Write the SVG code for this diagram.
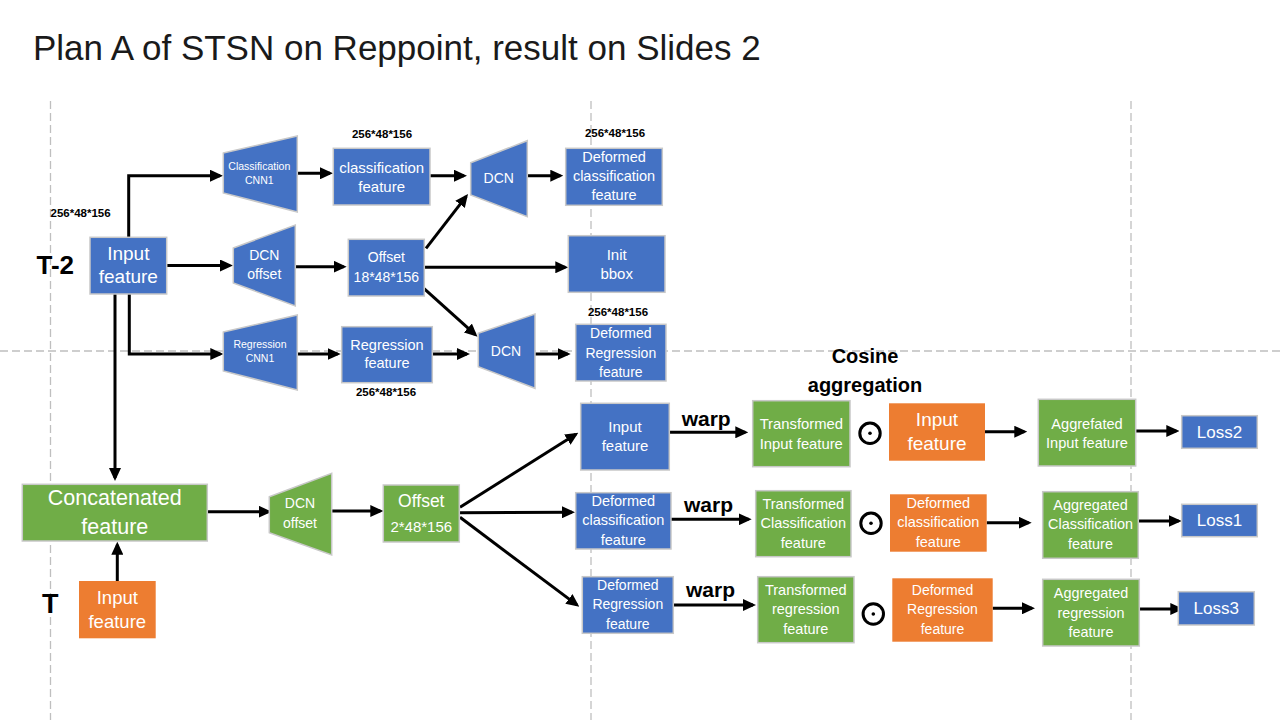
<svg xmlns="http://www.w3.org/2000/svg" width="1280" height="720" viewBox="0 0 1280 720">
<defs>
<marker id="ah" markerUnits="userSpaceOnUse" markerWidth="13" markerHeight="12" refX="10" refY="6" orient="auto">
<path d="M0,0 L13,6 L0,12 z" fill="#000"/>
</marker>
<style>
.guide{stroke:#BFBFBF;stroke-width:1.3;stroke-dasharray:8 4;fill:none}
.blue{fill:#4472C4;stroke:#C8C8C8;stroke-width:1.5}
.green{fill:#70AD47;stroke:#C8C8C8;stroke-width:1.5}
.orange{fill:#ED7D31}
.t{fill:#fff;font-family:"Liberation Sans",Arial,sans-serif;text-anchor:middle}
.k{fill:#000;font-family:"Liberation Sans",Arial,sans-serif;font-weight:bold}
.lbl{fill:#000;font-family:"Liberation Sans",Arial,sans-serif;font-weight:bold;font-size:11.5px;text-anchor:middle}
.c{fill:none;stroke:#000;stroke-width:3;marker-end:url(#ah)}
.odot{fill:none;stroke:#000;stroke-width:3}
</style>
</defs>
<rect width="1280" height="720" fill="#fff"/>
<g id="guides">
<line class="guide" x1="50.5" y1="101" x2="50.5" y2="720"/>
<line class="guide" x1="591" y1="101" x2="591" y2="720"/>
<line class="guide" x1="1131" y1="101" x2="1131" y2="720"/>
<line class="guide" x1="0" y1="351" x2="1280" y2="351"/>
</g>
<text x="33" y="60" font-family="Liberation Sans, Arial, sans-serif" font-size="35" fill="#1a1a1a">Plan A of STSN on Reppoint, result on Slides 2</text>
<g id="labels">
<text class="k" x="36.5" y="274" font-size="26">T-2</text>
<text class="k" x="42" y="612.5" font-size="27">T</text>
<text class="lbl" x="50.5" y="216.5" style="text-anchor:start">256*48*156</text>
<text class="lbl" x="382" y="138">256*48*156</text>
<text class="lbl" x="615" y="137">256*48*156</text>
<text class="lbl" x="618" y="316">256*48*156</text>
<text class="lbl" x="386" y="396">256*48*156</text>
<text class="k" x="865" y="363.3" font-size="20" text-anchor="middle">Cosine</text>
<text class="k" x="865" y="391.7" font-size="20" text-anchor="middle">aggregation</text>
<text class="k" x="681.7" y="426" font-size="21">warp</text>
<text class="k" x="684" y="511.7" font-size="21">warp</text>
<text class="k" x="686" y="596.7" font-size="21">warp</text>
</g>
<g id="connectors">
<path class="c" d="M128.7,237 V175.7 H220"/>
<path class="c" d="M167,265.5 H230"/>
<path class="c" d="M129.3,294 V354 H220.3"/>
<path class="c" d="M115,294 V478"/>
<path class="c" d="M297,173.3 H330"/>
<path class="c" d="M430,175.7 H464"/>
<path class="c" d="M527,175.7 H560.3"/>
<path class="c" d="M295,266.7 H343.7"/>
<path class="c" d="M426,248.3 L466.2,196.4"/>
<path class="c" d="M424,267.3 H565.3"/>
<path class="c" d="M422.7,287.3 L475.3,334.7"/>
<path class="c" d="M297,354 H337.7"/>
<path class="c" d="M432,354 H467"/>
<path class="c" d="M535,354 H567.7"/>
<path class="c" d="M117.3,581 V544.7"/>
<path class="c" d="M207.3,511.7 H268.7"/>
<path class="c" d="M331.7,511 H380.3"/>
<path class="c" d="M460,507.3 L575.8,434.3"/>
<path class="c" d="M460,512.7 L572,512.2"/>
<path class="c" d="M460,517.3 L576.9,604.9"/>
<path class="c" d="M669,432.3 H745.3"/>
<path class="c" d="M671,519.3 H748.7"/>
<path class="c" d="M673.3,605 H753"/>
<path class="c" d="M985,431.7 H1024.3"/>
<path class="c" d="M986.7,522.7 H1028.7"/>
<path class="c" d="M992.7,608.3 H1032"/>
<path class="c" d="M1135.7,431 H1176.3"/>
<path class="c" d="M1138.3,521 H1178.7"/>
<path class="c" d="M1139.3,609 H1180.3"/>
</g>
<g id="n-input-t2"><rect class="blue" x="90" y="237.3" width="76.7" height="56.7"/><text class="t" font-size="19" x="128.3" y="259.5">Input</text><text class="t" font-size="19" x="128.3" y="283">feature</text></g>
<g id="n-cls-cnn1"><polygon class="blue" points="223.3,153 297.3,136 297.3,212 223.3,193"/><text class="t" font-size="10.5" x="259.3" y="169.7">Classification</text><text class="t" font-size="10.5" x="259.3" y="183.7">CNN1</text></g>
<g id="n-dcn-offset-t2"><polygon class="blue" points="233.3,248 295.3,225 295.3,306 233.3,283"/><text class="t" font-size="14" x="264.3" y="260">DCN</text><text class="t" font-size="14" x="264.3" y="279">offset</text></g>
<g id="n-reg-cnn1"><polygon class="blue" points="223.3,332 297.3,315 297.3,390 223.3,371"/><text class="t" font-size="10.5" x="260" y="348">Regression</text><text class="t" font-size="10.5" x="260" y="362">CNN1</text></g>
<g id="n-cls-feature"><rect class="blue" x="333.3" y="148.3" width="96.7" height="56.7"/><text class="t" font-size="15" x="381.7" y="173">classification</text><text class="t" font-size="15" x="381.7" y="191.5">feature</text></g>
<g id="n-dcn-top"><polygon class="blue" points="470.7,162.7 527.3,140.7 527.3,216.7 470.7,195"/><text class="t" font-size="14" x="498.7" y="183.3">DCN</text></g>
<g id="n-def-cls-top"><rect class="blue" x="565.7" y="148.3" width="96.6" height="57"/><text class="t" font-size="14.5" x="614" y="161.8">Deformed</text><text class="t" font-size="14.5" x="614" y="181">classification</text><text class="t" font-size="14.5" x="614" y="200">feature</text></g>
<g id="n-offset18"><rect class="blue" x="348.3" y="239.3" width="76" height="56.7"/><text class="t" font-size="14" x="386.3" y="262.3">Offset</text><text class="t" font-size="14" x="386.3" y="281.7">18*48*156</text></g>
<g id="n-init-bbox"><rect class="blue" x="568.3" y="235.7" width="96.7" height="56.6"/><text class="t" font-size="15" x="616.7" y="259.5">Init</text><text class="t" font-size="15" x="616.7" y="278.5">bbox</text></g>
<g id="n-reg-feature"><rect class="blue" x="341.7" y="326.7" width="90.6" height="56"/><text class="t" font-size="14.5" x="387" y="350">Regression</text><text class="t" font-size="14.5" x="387" y="368.3">feature</text></g>
<g id="n-dcn-bottom"><polygon class="blue" points="478.3,333.3 535,314 535,388.3 478.3,366.7"/><text class="t" font-size="14" x="506" y="356">DCN</text></g>
<g id="n-def-reg-top"><rect class="blue" x="575.7" y="324.3" width="90.3" height="56.7"/><text class="t" font-size="14" x="620.8" y="338.3">Deformed</text><text class="t" font-size="14" x="620.8" y="358.3">Regression</text><text class="t" font-size="14" x="620.8" y="376.7">feature</text></g>
<g id="n-concat"><rect class="green" x="22.3" y="484.3" width="185" height="56.7"/><text class="t" font-size="21.5" x="114.8" y="505">Concatenated</text><text class="t" font-size="21.5" x="114.8" y="533.5">feature</text></g>
<g id="n-input-t"><rect class="orange" x="79" y="581" width="76.7" height="57.3"/><text class="t" font-size="18.5" x="117.3" y="604">Input</text><text class="t" font-size="18.5" x="117.3" y="627.7">feature</text></g>
<g id="n-dcn-offset-t"><polygon class="green" points="269.3,496.7 331.7,473.3 331.7,555 269.3,532.7"/><text class="t" font-size="14" x="300" y="508.3">DCN</text><text class="t" font-size="14" x="300" y="527.7">offset</text></g>
<g id="n-offset2"><rect class="green" x="383.3" y="485" width="76" height="57"/><text class="t" font-size="17.5" x="421.3" y="507">Offset</text><text class="t" font-size="15" x="421.3" y="532">2*48*156</text></g>
<g id="n-in-blue"><rect class="blue" x="580.7" y="403.3" width="88.6" height="66.7"/><text class="t" font-size="15" x="625" y="432">Input</text><text class="t" font-size="15" x="625" y="451">feature</text></g>
<g id="n-defcls-blue"><rect class="blue" x="575.7" y="492.7" width="95.3" height="56.3"/><text class="t" font-size="14.5" x="623.3" y="506">Deformed</text><text class="t" font-size="14.5" x="623.3" y="525">classification</text><text class="t" font-size="14.5" x="623.3" y="545">feature</text></g>
<g id="n-defreg-blue"><rect class="blue" x="582.3" y="576.7" width="91" height="56.6"/><text class="t" font-size="14" x="627.8" y="590">Deformed</text><text class="t" font-size="14" x="627.8" y="609.3">Regression</text><text class="t" font-size="14" x="627.8" y="629">feature</text></g>
<g id="n-tr-in"><rect class="green" x="752.7" y="400.7" width="97.3" height="66"/><text class="t" font-size="14.8" x="801.3" y="428.5">Transformed</text><text class="t" font-size="14.8" x="801.3" y="448.5">Input feature</text></g>
<g id="n-tr-cls"><rect class="green" x="755.7" y="490.7" width="95.3" height="66"/><text class="t" font-size="14.5" x="803.3" y="509.3">Transformed</text><text class="t" font-size="14.5" x="803.3" y="528.3">Classification</text><text class="t" font-size="14.5" x="803.3" y="548.3">feature</text></g>
<g id="n-tr-reg"><rect class="green" x="757.7" y="576.7" width="96.3" height="66"/><text class="t" font-size="14.5" x="805.8" y="595">Transformed</text><text class="t" font-size="14.5" x="805.8" y="614.3">regression</text><text class="t" font-size="14.5" x="805.8" y="634">feature</text></g>
<g id="odot1"><circle class="odot" cx="870" cy="433.3" r="10.2"/><circle cx="870" cy="433.3" r="1.8"/></g>
<g id="odot2"><circle class="odot" cx="871" cy="523.3" r="10.2"/><circle cx="871" cy="523.3" r="1.8"/></g>
<g id="odot3"><circle class="odot" cx="873.3" cy="614" r="10.2"/><circle cx="873.3" cy="614" r="1.8"/></g>
<g id="n-in-orange"><rect class="orange" x="889" y="403.3" width="96" height="57.4"/><text class="t" font-size="19" x="937" y="425.5">Input</text><text class="t" font-size="19" x="937" y="449.5">feature</text></g>
<g id="n-defcls-orange"><rect class="orange" x="890" y="494.3" width="96.7" height="57.4"/><text class="t" font-size="14.5" x="938.3" y="508.3">Deformed</text><text class="t" font-size="14.5" x="938.3" y="527.3">classification</text><text class="t" font-size="14.5" x="938.3" y="546.7">feature</text></g>
<g id="n-defreg-orange"><rect class="orange" x="892.3" y="578.3" width="100.4" height="63.4"/><text class="t" font-size="14" x="942.5" y="595">Deformed</text><text class="t" font-size="14" x="942.5" y="614">Regression</text><text class="t" font-size="14" x="942.5" y="633.7">feature</text></g>
<g id="n-agg-in"><rect class="green" x="1038.3" y="399.3" width="97.4" height="66.7"/><text class="t" font-size="14.6" x="1087" y="428.5">Aggrefated</text><text class="t" font-size="14.6" x="1087" y="447.5">Input feature</text></g>
<g id="n-agg-cls"><rect class="green" x="1042.7" y="491.7" width="95.6" height="66.6"/><text class="t" font-size="14.4" x="1090.5" y="510">Aggregated</text><text class="t" font-size="14.4" x="1090.5" y="529.3">Classification</text><text class="t" font-size="14.4" x="1090.5" y="549">feature</text></g>
<g id="n-agg-reg"><rect class="green" x="1042.7" y="579.3" width="96.6" height="66.7"/><text class="t" font-size="14.4" x="1091" y="598.3">Aggregated</text><text class="t" font-size="14.4" x="1091" y="617.7">regression</text><text class="t" font-size="14.4" x="1091" y="636.7">feature</text></g>
<g id="n-loss2"><rect class="blue" x="1181.7" y="415.7" width="75.6" height="32.6"/><text class="t" font-size="17" x="1219.5" y="437.5">Loss2</text></g>
<g id="n-loss1"><rect class="blue" x="1181.7" y="504.3" width="75.6" height="32.4"/><text class="t" font-size="17" x="1219.5" y="526">Loss1</text></g>
<g id="n-loss3"><rect class="blue" x="1178.3" y="591.7" width="76" height="33.3"/><text class="t" font-size="17" x="1216.3" y="614.3">Loss3</text></g>
</svg>
